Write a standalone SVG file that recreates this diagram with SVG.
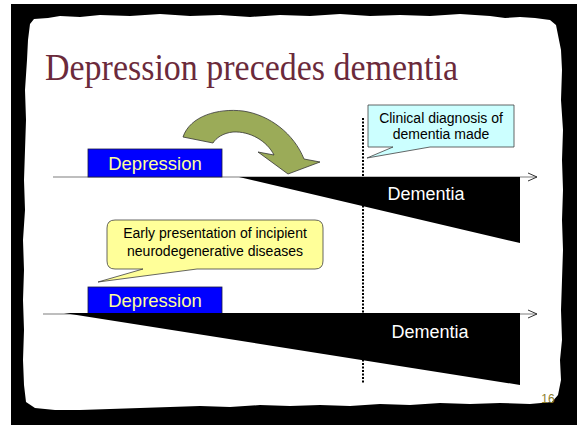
<svg xmlns="http://www.w3.org/2000/svg" width="577" height="425" viewBox="0 0 577 425">
<style>
.axis{stroke:#7f7f7f;stroke-width:1.2;fill:none}
.dep{fill:#0000ff;stroke:#1a1a40;stroke-width:0.8}
.deptxt{font-family:"Liberation Sans",Arial,sans-serif;font-size:18.5px;fill:#ffff99;text-anchor:middle}
.dem{fill:#000}
.demtxt{font-family:"Liberation Sans",Arial,sans-serif;font-size:18px;fill:#fff;text-anchor:middle}
.call{font-family:"Liberation Sans",Arial,sans-serif;font-size:14px;fill:#000;text-anchor:middle}
</style>
<defs>
<marker id="open" markerWidth="12" markerHeight="10" refX="10" refY="5" orient="auto" markerUnits="userSpaceOnUse">
<path d="M1,1 L10,5 L1,9" fill="none" stroke="#333" stroke-width="1"/>
</marker>
</defs>
<rect x="0" y="0" width="577" height="425" fill="#fff"/>
<rect x="11" y="4" width="566" height="421" fill="#000"/>
<path id="paper" fill="#fff" d="M30,24 L34,19 L48,18 L60,16 L80,17 L100,15 L130,16 L160,14 L190,16 L220,15 L250,17 L280,15 L310,16 L340,14 L370,16 L400,15 L430,16 L460,14 L490,16 L505,18 L520,17 L535,18 L550,20 L556,25 L558,35 L561,50 L562,70 L561,100 L563,130 L562,160 L563,190 L562,220 L563,250 L562,280 L561,310 L562,340 L560,360 L561,380 L558,395 L552,402 L530,404 L500,403 L470,404 L440,403 L410,405 L380,404 L350,406 L320,405 L290,406 L260,405 L230,407 L200,406 L170,407 L140,408 L110,409 L80,410 L55,410 L35,408 L26,402 L24,385 L23,360 L24,330 L23,300 L24,270 L23,240 L25,210 L24,180 L25,150 L26,120 L25,90 L27,60 L28,40 Z"/>
<text x="45" y="80" font-family="'Liberation Serif','Times New Roman',serif" font-size="37" fill="#6b2a3b" textLength="413" lengthAdjust="spacingAndGlyphs">Depression precedes dementia</text>
<g id="connectors">
<line class="axis" x1="53" y1="177" x2="537" y2="177" marker-end="url(#open)"/>
<line class="axis" x1="43" y1="314" x2="537" y2="314" marker-end="url(#open)"/>
<line x1="363" y1="118" x2="363" y2="384" stroke="#000" stroke-width="2" stroke-dasharray="2 1.5"/>
</g>
<g id="top-depression">
<rect class="dep" x="88" y="149" width="134" height="28"/>
<text class="deptxt" x="155" y="170">Depression</text>
</g>
<g id="top-dementia">
<polygon class="dem" points="239,177 520,177 520,243"/>
<text class="demtxt" x="426" y="200">Dementia</text>
</g>
<g id="curved-arrow">
<path fill="#9bab58" stroke="#333" stroke-width="0.8" d="M183,137 C190,116 218,108 243,111 C270,115 294,134 304,159 L320,162 L288,174 L258,152 L274,155 C267,141 250,131 233,132 C223,133 216,138 213,143 Z"/>
</g>
<g id="diagnosis-callout">
<path fill="#ccffff" stroke="#404040" stroke-width="0.8" d="M368,105 L514,105 L514,147 L430,147 L367,158 L393,147 L368,147 Z"/>
<text class="call" x="441" y="123">Clinical diagnosis of</text>
<text class="call" x="441" y="139">dementia made</text>
</g>
<g id="bottom-depression">
<rect class="dep" x="88" y="287" width="134" height="27"/>
<text class="deptxt" x="155" y="307">Depression</text>
</g>
<g id="bottom-dementia">
<polygon class="dem" points="64,313 520,313 520,385"/>
<text class="demtxt" x="430" y="338">Dementia</text>
</g>
<g id="early-callout">
<path fill="#ffff99" stroke="#404040" stroke-width="0.8" d="M115,220 L315,220 Q323,220 323,228 L323,261 Q323,269 315,269 L197,269 L98,282 L143,269 L115,269 Q107,269 107,261 L107,228 Q107,220 115,220 Z"/>
<text class="call" x="215" y="238">Early presentation of incipient</text>
<text class="call" x="215" y="256">neurodegenerative diseases</text>
</g>
<text x="548" y="403" font-family="'Liberation Sans',Arial,sans-serif" font-size="12" fill="#8c7d2a" text-anchor="middle">16</text>
</svg>
